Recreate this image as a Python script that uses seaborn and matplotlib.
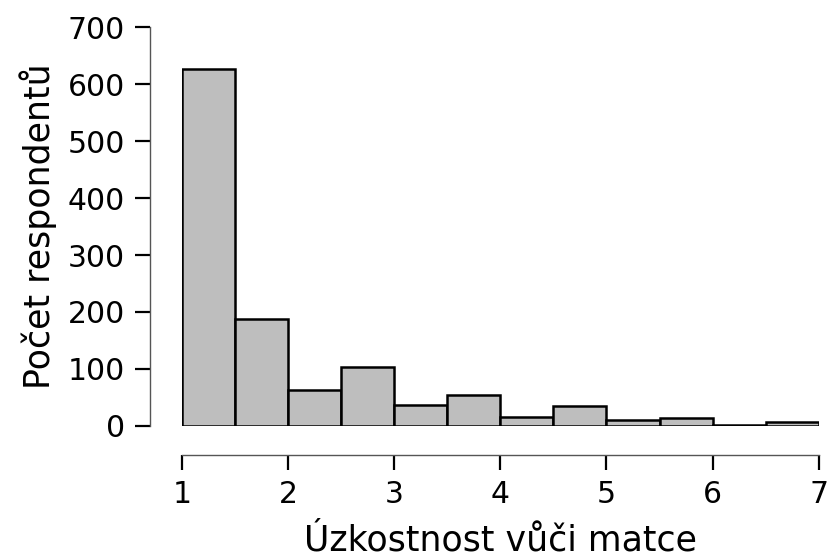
import numpy as np
import pandas as pd
import matplotlib
matplotlib.use('Agg')
import matplotlib.pyplot as plt
import seaborn as sns

# bin edges and counts
bin_edges = [1, 1.5, 2, 2.5, 3, 3.5, 4, 4.5, 5, 5.5, 6, 6.5, 7]
counts = [626, 188, 63, 104, 36, 55, 15, 35, 11, 14, 2, 7]
bin_mid = [(a + b) / 2 for a, b in zip(bin_edges[:-1], bin_edges[1:])]

df = pd.DataFrame({'score': bin_mid, 'n': counts})

sns.set_style('white')
plt.rcParams['font.family'] = ['DejaVu Sans']
plt.rcParams['text.color'] = 'black'
plt.rcParams['axes.labelcolor'] = 'black'
plt.rcParams['xtick.color'] = 'black'
plt.rcParams['ytick.color'] = 'black'

fig = plt.figure(figsize=(8.28, 5.57), dpi=100)
ax = fig.add_axes([0.2198, 0.2352, 0.769, 0.7163])

sns.histplot(data=df, x='score', weights='n', bins=bin_edges,
             color='#bebebe', edgecolor='black', linewidth=1.8, alpha=1, ax=ax)

ax.set_xlim(1, 7)
ax.set_ylim(0, 700)
ax.set_xticks(range(1, 8))
ax.set_yticks(range(0, 701, 100))

for s in ['top', 'right']:
    ax.spines[s].set_visible(False)
ax.spines['left'].set_position(('outward', 23))
ax.spines['bottom'].set_position(('outward', 21))
ax.spines['left'].set_bounds(0, 700)
ax.spines['bottom'].set_bounds(1, 7)
for s in ['left', 'bottom']:
    ax.spines[s].set_color('#555555')
    ax.spines[s].set_linewidth(1)

ax.tick_params(axis='both', length=11, width=1.6, color='black',
               labelsize=21.5, pad=7, direction='out', labelcolor='black')
ax.tick_params(axis='x', bottom=True)
ax.tick_params(axis='y', left=True)

ax.set_xlabel('Úzkostnost vůči matce', fontsize=25, labelpad=10)
ax.set_ylabel('Počet respondentů', fontsize=25, labelpad=8)

fig.savefig('out.png', dpi=100)
